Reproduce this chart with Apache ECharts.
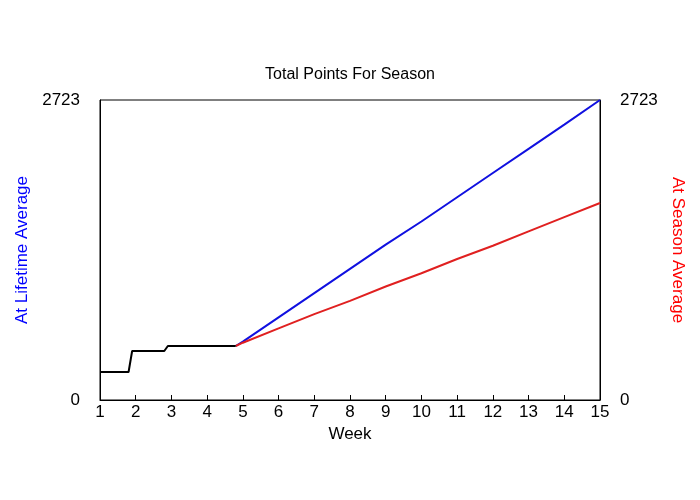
<!DOCTYPE html>
<html><head><meta charset="utf-8">
<script src="https://cdn.jsdelivr.net/npm/echarts@6/dist/echarts.min.js"></script>
<style>html,body{margin:0;background:#fff}#c{width:700px;height:500px}</style>
</head><body><div id="c"></div>
<script>
const weeksTicks = [1,2,3,4,5,6,7,8,9,10,11,12,13,14,15];
const actual = [[1,254],[1.8,254],[1.9,445],[2.8,445],[2.9,490],[4.8,490]];
const lifetime = [[4.8,490],[5,530],[6,750],[7,970],[8,1190],[9,1410],[10,1620],[11,1840],[12,2060],[13,2280],[14,2500],[15,2723]];
const season = [[4.8,490],[5,520],[6,650],[7,780],[8,900],[9,1030],[10,1150],[11,1280],[12,1400],[13,1530],[14,1660],[15,1788]];
const yMax = 2723;
const F = 'Liberation Sans, Arial, sans-serif';
const chart = echarts.init(document.getElementById('c'));
const yAx = (pos, name, color) => ({
  type:'value', position:pos, min:0, max:yMax, interval:yMax,
  name:name, nameLocation:'middle', nameGap:-2, nameRotate:pos==='left'?90:-90,
  nameTextStyle:{color:color,fontSize:17,fontFamily:F},
  axisLine:{show:true,lineStyle:{color:'#000'}}, axisTick:{show:false}, splitLine:{show:false},
  axisLabel:{color:'#000',fontSize:17,fontFamily:F,margin:20,formatter:v=>String(v)}
});
chart.setOption({
  animation:false,
  title:{text:'Total Points For Season',left:'center',top:62,textStyle:{fontSize:16,fontWeight:'normal',fontFamily:F,color:'#000'}},
  grid:{left:100,right:100,top:100,bottom:100},
  xAxis:{type:'value',min:1,max:15,interval:1,name:'Week',nameLocation:'middle',nameGap:24,
    nameTextStyle:{fontSize:17,fontFamily:F,color:'#000'},
    axisLine:{lineStyle:{color:'#000'}},axisTick:{show:true,inside:true,length:5,lineStyle:{color:'#000'}},splitLine:{show:false},
    axisLabel:{fontSize:17,fontFamily:F,color:'#000',margin:4}},
  yAxis:[yAx('left','At Lifetime Average','#0000ff'), yAx('right','At Season Average','#ff0000')],
  series:[
    {type:'line',data:lifetime,showSymbol:false,lineStyle:{color:'#1010e0',width:2},z:2},
    {type:'line',data:season,showSymbol:false,lineStyle:{color:'#e02020',width:2},z:2},
    {type:'line',data:actual,showSymbol:false,lineStyle:{color:'#000',width:2},z:3}
  ],
  graphic:[{type:'rect',shape:{x:100,y:100,width:500,height:300},style:{fill:'none',stroke:'#000',lineWidth:1},silent:true}]
});
</script></body></html>
